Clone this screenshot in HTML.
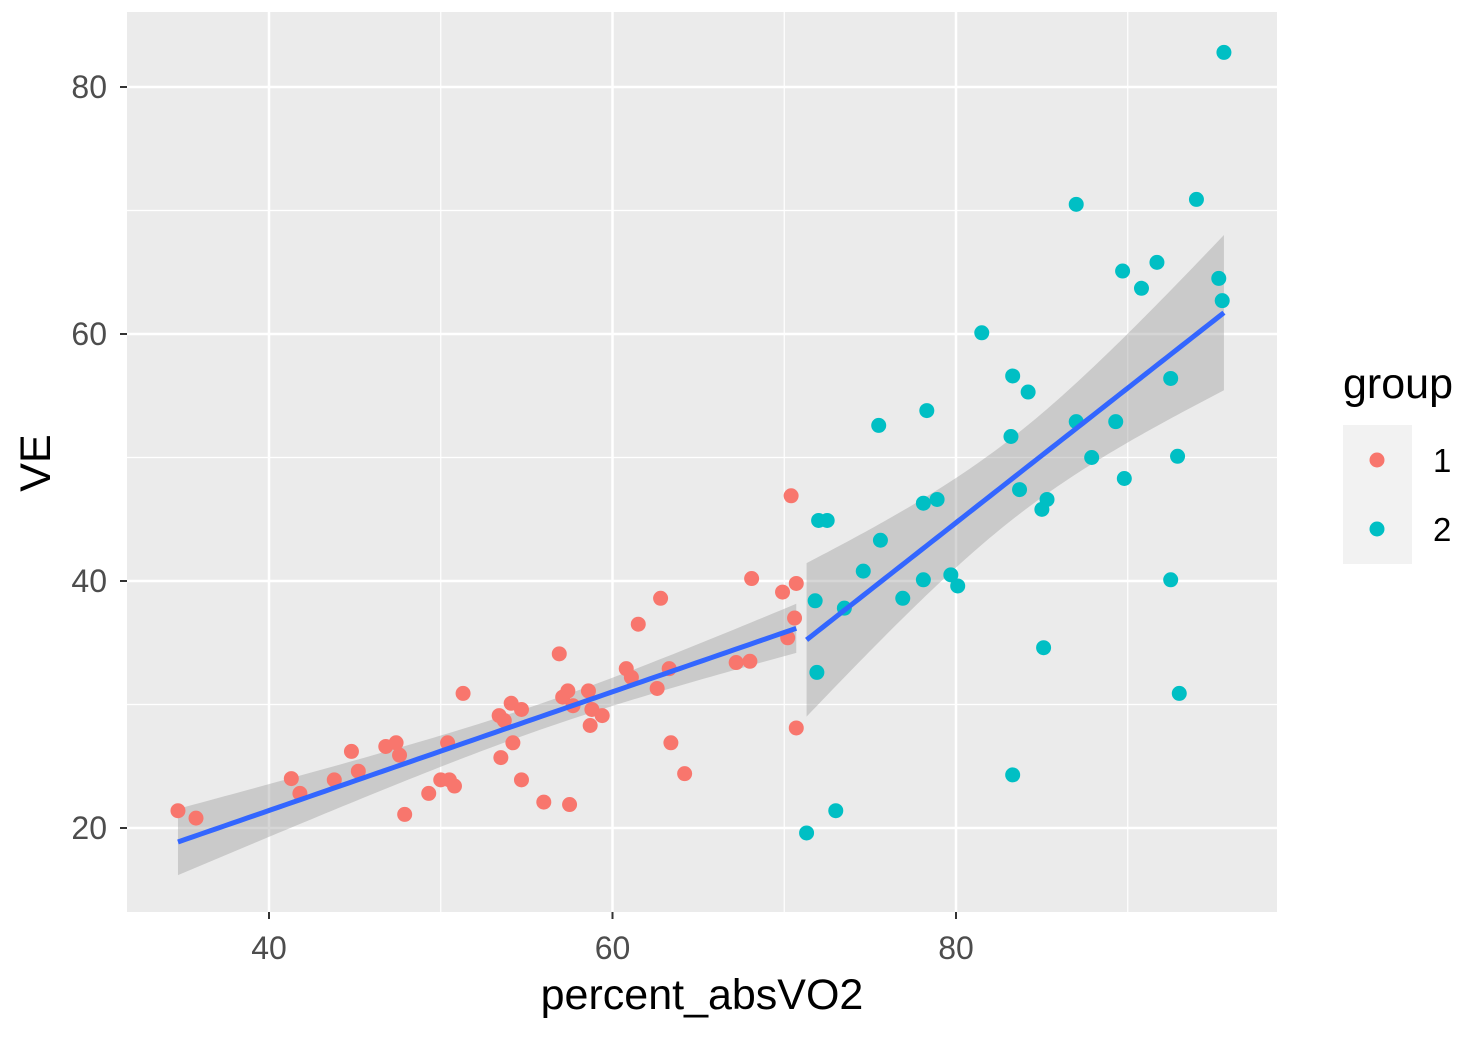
<!DOCTYPE html>
<html><head><meta charset="utf-8"><style>
html,body{margin:0;padding:0;background:#fff;}
svg{display:block;font-family:"Liberation Sans",Arial,sans-serif;}
</style></head><body>
<svg id="chart" width="1482" height="1037" viewBox="0 0 1482 1037">
<rect x="127" y="12" width="1150" height="900" fill="#EBEBEB"/>
<g id="grid"></g>
<g id="bands"></g>
<g id="points"></g>
<g id="lines"></g>
<g id="axes"></g>
<text x="702" y="1009" font-size="43" text-anchor="middle" fill="#000">percent_absVO2</text>
<text transform="translate(50,463) rotate(-90)" font-size="43" text-anchor="middle" fill="#000">VE</text>
<g>
<text x="1343" y="398" font-size="43" fill="#000">group</text>
<rect x="1343" y="425" width="69" height="69" fill="#F2F2F2"/>
<rect x="1343" y="494" width="69" height="70" fill="#F2F2F2"/>
<circle cx="1377" cy="460" r="7.5" fill="#F8766D"/>
<circle cx="1377" cy="529" r="7.5" fill="#00BFC4"/>
<text x="1433" y="472" font-size="33" fill="#000">1</text>
<text x="1433" y="541" font-size="33" fill="#000">2</text>
</g>
</svg>
<script>
const g1x=[34.7,35.75,41.3,41.8,43.8,44.8,45.2,46.8,47.4,47.6,47.9,49.3,50.0,50.4,50.5,50.8,51.3,53.4,53.5,53.7,54.1,54.2,54.7,54.7,56.0,56.9,57.1,57.4,57.5,57.7,58.6,58.7,58.8,59.4,60.8,61.1,61.5,62.6,62.8,63.3,63.4,64.2,67.2,68.0,68.1,69.9,70.2,70.7,70.6,70.7,70.4];
const g1y=[21.4,20.8,24.0,22.8,23.9,26.2,24.6,26.6,26.9,25.9,21.1,22.8,23.9,26.9,23.9,23.4,30.9,29.1,25.7,28.7,30.1,26.9,29.6,23.9,22.1,34.1,30.6,31.1,21.9,29.9,31.1,28.3,29.6,29.1,32.9,32.2,36.5,31.3,38.6,32.9,26.9,24.4,33.4,33.5,40.2,39.1,35.4,39.8,37.0,28.1,46.9];
const g2x=[71.3,71.8,71.9,72.0,72.5,73.0,73.5,74.6,75.5,75.6,76.9,78.1,78.1,78.3,78.9,79.7,80.1,81.5,83.2,83.3,83.3,83.7,84.2,85.0,85.1,85.3,87.0,87.0,87.9,89.3,89.7,89.8,90.8,91.7,92.5,92.5,92.9,93.0,94.0,95.3,95.5,95.6];
const g2y=[19.6,38.4,32.6,44.9,44.9,21.4,37.8,40.8,52.6,43.3,38.6,46.3,40.1,53.8,46.6,40.5,39.6,60.1,51.7,24.3,56.6,47.4,55.3,45.8,34.6,46.6,70.5,52.9,50.0,52.9,65.1,48.3,63.7,65.8,56.4,40.1,50.1,30.9,70.9,64.5,62.7,82.8];
const xTicks=[40,60,80];
const yTicks=[20,40,60,80];
const xMinor=[30,50,70,90];
const yMinor=[10,30,50,70];

const X0=127,X1=1277,Y0=12,Y1=912;
const sx=v=>269+(v-40)*17.175;
const sy=v=>828-(v-20)*12.35;
const NS="http://www.w3.org/2000/svg";
function mk(tag,attrs,parent){const e=document.createElementNS(NS,tag);for(const k in attrs)e.setAttribute(k,attrs[k]);parent.appendChild(e);return e;}
const grid=document.getElementById('grid');
xMinor.forEach(v=>{const p=sx(v);if(p>X0&&p<X1){const l=mk('line',{x1:p,x2:p,y1:Y0,y2:Y1,stroke:'#fff','stroke-width':1.2},grid);

}});
yMinor.forEach(v=>{const p=sy(v);if(p>Y0&&p<Y1){const l=mk('line',{x1:X0,x2:X1,y1:p,y2:p,stroke:'#fff','stroke-width':1.2},grid);

}});
const axes=document.getElementById('axes');
xTicks.forEach(v=>{const p=sx(v);const l=mk('line',{x1:p,x2:p,y1:Y0,y2:Y1,stroke:'#fff','stroke-width':2.5},grid);


const t=mk('line',{x1:p,x2:p,y1:Y1,y2:Y1+7,stroke:'#333','stroke-width':2},axes);


const tx=mk('text',{x:p,y:959,'font-size':32,'text-anchor':'middle',fill:'#4D4D4D'},axes);tx.textContent=v;

});
yTicks.forEach(v=>{const p=sy(v);const l=mk('line',{x1:X0,x2:X1,y1:p,y2:p,stroke:'#fff','stroke-width':2.5},grid);


const t=mk('line',{x1:X0-7,x2:X0,y1:p,y2:p,stroke:'#333','stroke-width':2},axes);


const tx=mk('text',{x:107,y:p+11,'font-size':32,'text-anchor':'end',fill:'#4D4D4D'},axes);tx.textContent=v;

});

function fit(xs,ys,name){
  const n=xs.length;const mx=xs.reduce((a,b)=>a+b)/n,my=ys.reduce((a,b)=>a+b)/n;
  let sxx=0,sxy=0;for(let i=0;i<n;i++){sxx+=(xs[i]-mx)**2;sxy+=(xs[i]-mx)*(ys[i]-my);}
  const b=sxy/sxx,a=my-b*mx;let rss=0;for(let i=0;i<n;i++)rss+=(ys[i]-a-b*xs[i])**2;
  const s=Math.sqrt(rss/(n-2)),t=2.01;
  const lo=Math.min(...xs),hi=Math.max(...xs);const up=[],dn=[],ln=[];
  for(let k=0;k<=80;k++){const x=lo+(hi-lo)*k/80;const yh=a+b*x;const se=s*Math.sqrt(1/n+(x-mx)**2/sxx);
    up.push(sx(x)+','+sy(yh+t*se));dn.unshift(sx(x)+','+sy(yh-t*se));ln.push(sx(x)+','+sy(yh));}
  const band=mk('polygon',{points:up.concat(dn).join(' '),fill:'#999','fill-opacity':0.4},document.getElementById('bands'));
  
  
  const line=mk('polyline',{points:ln.join(' '),fill:'none',stroke:'#3366FF','stroke-width':5},document.getElementById('lines'));
  
  
}
fit(g1x,g1y,'group-1');fit(g2x,g2y,'group-2');
const pts=document.getElementById('points');
g1x.forEach((x,i)=>{const c=mk('circle',{cx:sx(x),cy:sy(g1y[i]),r:7.5,fill:'#F8766D'},pts);

});
g2x.forEach((x,i)=>{const c=mk('circle',{cx:sx(x),cy:sy(g2y[i]),r:7.5,fill:'#00BFC4'},pts);

});
</script>
</body></html>
